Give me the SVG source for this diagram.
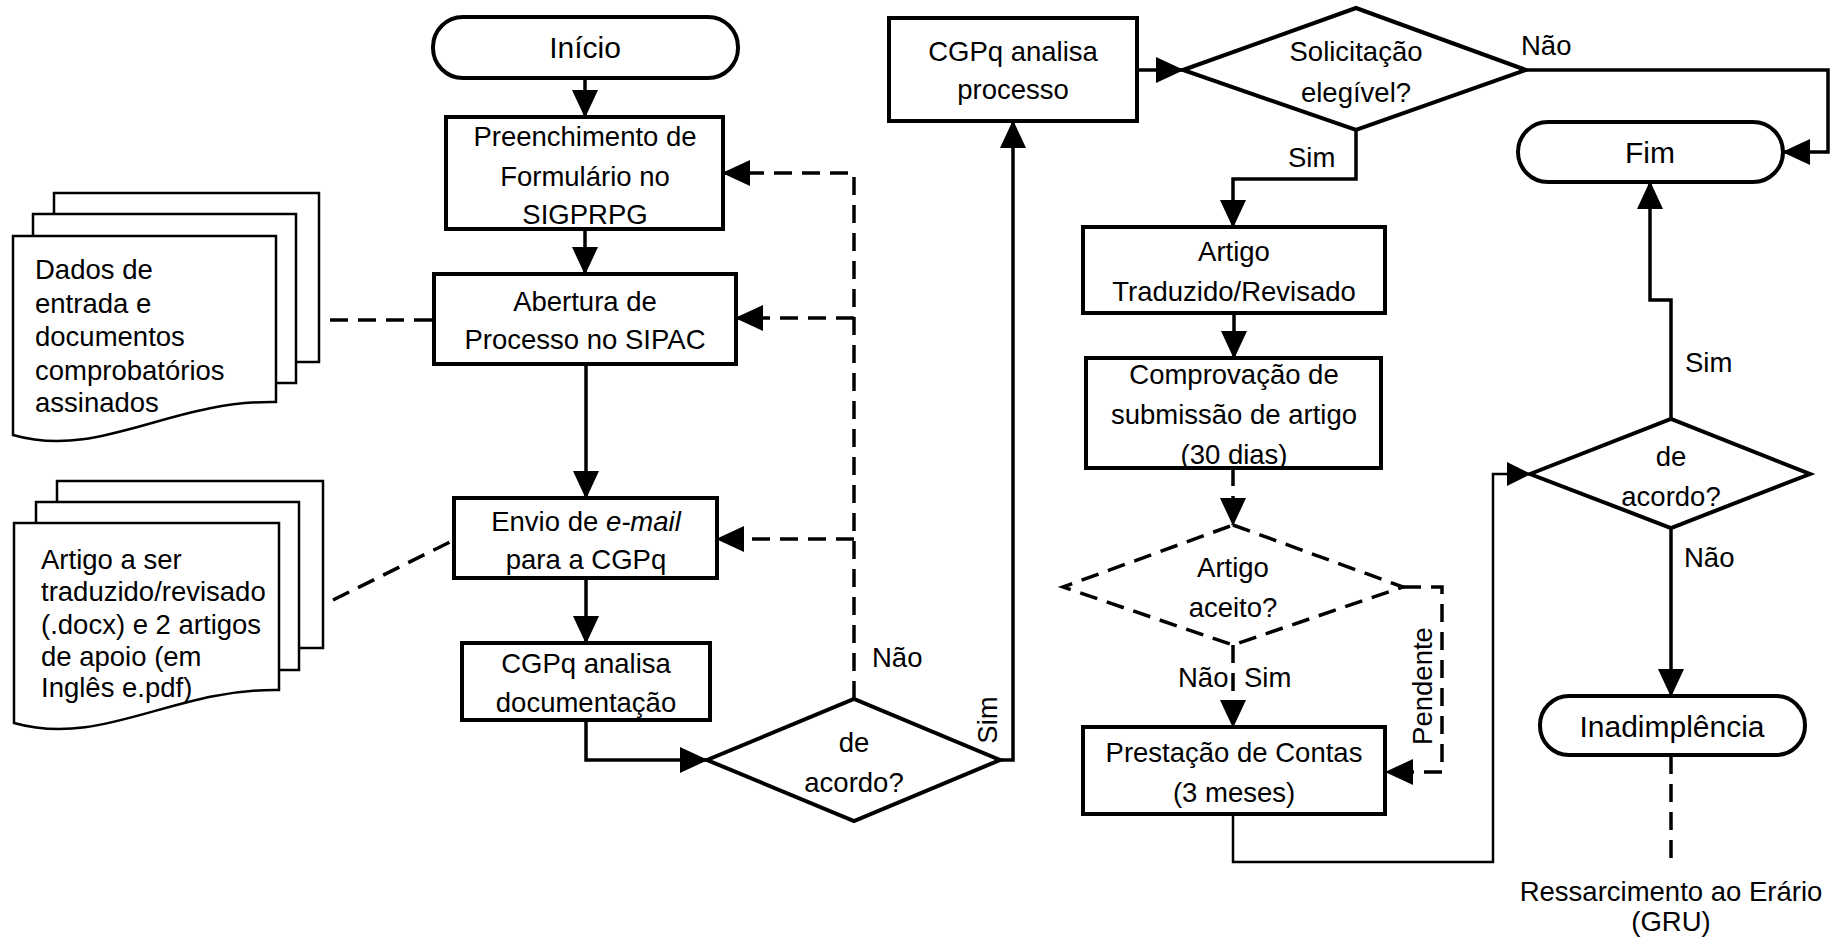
<svg xmlns="http://www.w3.org/2000/svg" width="1831" height="938" viewBox="0 0 1831 938">
<defs>
<marker id="ah" markerUnits="userSpaceOnUse" markerWidth="28" markerHeight="26" refX="27" refY="13" orient="auto" viewBox="0 0 28 26"><path d="M0,0 L28,13 L0,26 Z" fill="#000"/></marker>
<marker id="ahs" markerUnits="userSpaceOnUse" markerWidth="24" markerHeight="24" refX="23" refY="12" orient="auto" viewBox="0 0 24 24"><path d="M0,0 L24,12 L0,24 Z" fill="#000"/></marker>
<style>
.box{fill:#fff;stroke:#000;stroke-width:4}
.doc{fill:#fff;stroke:#000;stroke-width:2.5}
.c{fill:none;stroke:#000;stroke-width:3.5}
.thin{fill:none;stroke:#000;stroke-width:2.5}
.d{stroke-dasharray:18 10}
.t{font-family:"Liberation Sans",Arial,sans-serif;font-size:27.5px;fill:#000;text-anchor:middle}
.l{text-anchor:start}
.big{font-size:30px}
</style>
</defs>
<rect width="1831" height="938" fill="#fff"/>

<g id="connectors">
<path class="c" d="M585,78 V117" marker-end="url(#ah)"/>
<path class="c" d="M585,229 V274" marker-end="url(#ah)"/>
<path class="c" d="M586,364 V498" marker-end="url(#ah)"/>
<path class="c" d="M586,578 V643" marker-end="url(#ah)"/>
<path class="c" d="M586,720 V760 H707" marker-end="url(#ah)"/>
<path class="c" d="M1000,760 H1013 V121" marker-end="url(#ah)"/>
<path class="c d" d="M854,699 V173 H723" marker-end="url(#ah)"/>
<path class="c d" d="M854,318 H736" marker-end="url(#ah)"/>
<path class="c d" d="M854,539 H717" marker-end="url(#ah)"/>
<path class="c d" d="M330,320 H434"/>
<path class="c d" d="M333,600 L454,540"/>
<path class="c" d="M1137,70 H1183" marker-end="url(#ah)"/>
<path class="c" d="M1526,70 H1828 V152 H1783" marker-end="url(#ah)"/>
<path class="c" d="M1356,130 V179 H1233 V227" marker-end="url(#ah)"/>
<path class="c" d="M1234,313 V358" marker-end="url(#ah)"/>
<path class="c d" d="M1233,468 V525" marker-end="url(#ah)"/>
<path class="c d" d="M1233,645 V727" marker-end="url(#ah)"/>
<path class="c d" d="M1403,587 H1442 V772 H1386" marker-end="url(#ah)"/>
<path class="thin" d="M1233,814 V862 H1493 V474 H1530" marker-end="url(#ahs)"/>
<path class="c" d="M1671,419 V300 H1650 V182" marker-end="url(#ah)"/>
<path class="c" d="M1671,528 V696" marker-end="url(#ah)"/>
<path class="c d" d="M1671,756 V862"/>
<text class="t l" x="872" y="667">Não</text>
<text class="t" transform="translate(988,720) rotate(-90)" y="9">Sim</text>
<text class="t l" x="1521" y="55">Não</text>
<text class="t l" x="1288" y="167">Sim</text>
<text class="t l" x="1178" y="687">Não</text>
<text class="t l" x="1244" y="687">Sim</text>
<text class="t" transform="translate(1423,686) rotate(-90)" y="9">Pendente</text>
<text class="t l" x="1685" y="372">Sim</text>
<text class="t l" x="1684" y="567">Não</text>
</g>

<g id="inicio">
<rect class="box" x="433" y="17" width="305" height="61" rx="30"/>
<text class="t big" x="585" y="58">Início</text>
</g>

<g id="preenchimento">
<rect class="box" x="446" y="117" width="277" height="112"/>
<text class="t" x="585" y="146">Preenchimento de</text>
<text class="t" x="585" y="186">Formulário no</text>
<text class="t" x="585" y="224">SIGPRPG</text>
</g>

<g id="abertura">
<rect class="box" x="434" y="274" width="302" height="90"/>
<text class="t" x="585" y="311">Abertura de</text>
<text class="t" x="585" y="349">Processo no SIPAC</text>
</g>

<g id="envio">
<rect class="box" x="454" y="498" width="263" height="80"/>
<text class="t" x="586" y="531">Envio de <tspan font-style="italic">e-mail</tspan></text>
<text class="t" x="586" y="569">para a CGPq</text>
</g>

<g id="cgpq-doc">
<rect class="box" x="462" y="643" width="248" height="77"/>
<text class="t" x="586" y="673">CGPq analisa</text>
<text class="t" x="586" y="712">documentação</text>
</g>

<g id="decisao1">
<path class="box" d="M707,760 L854,699 L1000,760 L854,821 Z"/>
<text class="t" x="854" y="752">de</text>
<text class="t" x="854" y="792">acordo?</text>
</g>

<g id="cgpq-processo">
<rect class="box" x="889" y="18" width="248" height="103"/>
<text class="t" x="1013" y="61">CGPq analisa</text>
<text class="t" x="1013" y="99">processo</text>
</g>

<g id="solicitacao">
<path class="box" d="M1183,70 L1356,8 L1526,70 L1356,130 Z"/>
<text class="t" x="1356" y="61">Solicitação</text>
<text class="t" x="1356" y="102">elegível?</text>
</g>

<g id="fim">
<rect class="box" x="1518" y="122" width="265" height="60" rx="30"/>
<text class="t big" x="1650" y="163">Fim</text>
</g>

<g id="artigo-traduzido">
<rect class="box" x="1083" y="227" width="302" height="86"/>
<text class="t" x="1234" y="261">Artigo</text>
<text class="t" x="1234" y="301">Traduzido/Revisado</text>
</g>

<g id="comprovacao">
<rect class="box" x="1086" y="358" width="295" height="110"/>
<text class="t" x="1234" y="384">Comprovação de</text>
<text class="t" x="1234" y="424">submissão de artigo</text>
<text class="t" x="1234" y="464">(30 dias)</text>
</g>

<g id="artigo-aceito">
<path class="c d" d="M1233,525 L1403,587 L1233,645 L1063,587 Z" fill="#fff"/>
<text class="t" x="1233" y="577">Artigo</text>
<text class="t" x="1233" y="617">aceito?</text>
</g>

<g id="prestacao">
<rect class="box" x="1083" y="727" width="302" height="87"/>
<text class="t" x="1234" y="762">Prestação de Contas</text>
<text class="t" x="1234" y="802">(3 meses)</text>
</g>

<g id="decisao2">
<path class="box" d="M1530,474 L1671,419 L1810,474 L1671,528 Z"/>
<text class="t" x="1671" y="466">de</text>
<text class="t" x="1671" y="506">acordo?</text>
</g>

<g id="inadimplencia">
<rect class="box" x="1540" y="696" width="265" height="59" rx="29"/>
<text class="t big" x="1672" y="737">Inadimplência</text>
</g>

<g id="ressarcimento">
<text class="t" x="1671" y="901">Ressarcimento ao Erário</text>
<text class="t" x="1671" y="931">(GRU)</text>
</g>

<g id="doc-dados">
<rect class="doc" x="54" y="193" width="265" height="169"/>
<rect class="doc" x="33" y="214" width="263" height="169"/>
<path class="doc" d="M13,236 H276 V402 C170,400 100,460 13,435 Z"/>
<text class="t l" x="35" y="279">Dados de</text>
<text class="t l" x="35" y="313">entrada e</text>
<text class="t l" x="35" y="346">documentos</text>
<text class="t l" x="35" y="380">comprobatórios</text>
<text class="t l" x="35" y="412">assinados</text>
</g>

<g id="doc-artigo">
<rect class="doc" x="57" y="481" width="266" height="167"/>
<rect class="doc" x="36" y="502" width="263" height="168"/>
<path class="doc" d="M14,523 H279 V690 C173,688 103,748 14,723 Z"/>
<text class="t l" x="41" y="569">Artigo a ser</text>
<text class="t l" x="41" y="601">traduzido/revisado</text>
<text class="t l" x="41" y="634">(.docx) e 2 artigos</text>
<text class="t l" x="41" y="666">de apoio (em</text>
<text class="t l" x="41" y="697">Inglês e.pdf)</text>
</g>
</svg>
